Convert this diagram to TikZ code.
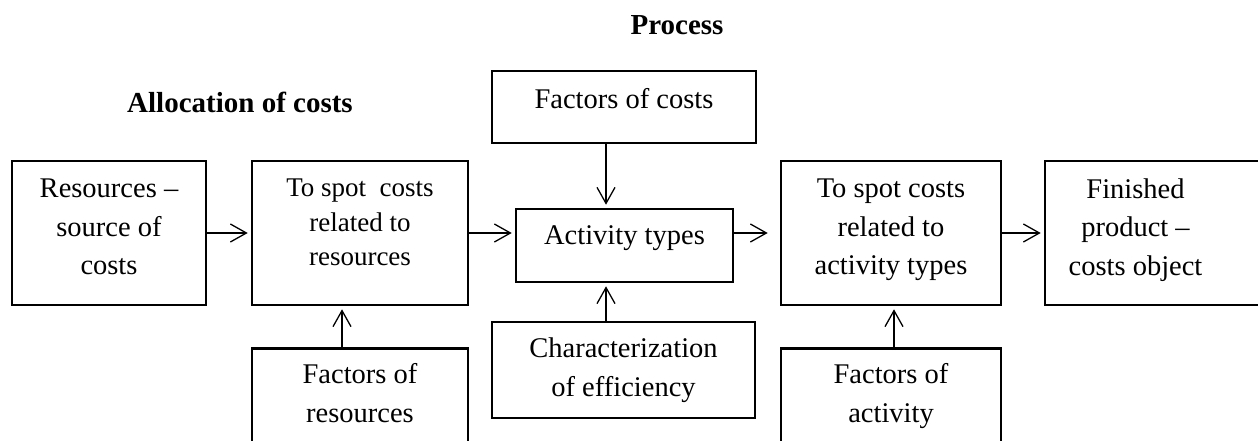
\documentclass[tikz,border=0pt]{standalone}
\usepackage{fontspec}
\setmainfont{Liberation Serif}
\usetikzlibrary{positioning}
\usetikzlibrary{arrows.meta}
\tikzset{>={Straight Barb[length=16pt,width=18pt]}}
\tikzset{box/.style={draw, line width=2.6pt, inner sep=0pt, align=center, font=\fontsize{28.5}{38.5}\selectfont}}
\tikzset{txt/.style={inner sep=0pt, align=center, font=\fontsize{28.5}{38.5}\selectfont}}
\tikzset{head/.style={inner sep=0pt, anchor=base, font=\bfseries\fontsize{29}{35}\selectfont}}
\tikzset{ed/.style={->, line width=1.3pt, shorten >=3pt}}

\begin{document}
\begin{tikzpicture}[x=1pt,y=-1pt]
\useasboundingbox (0,0) rectangle (1258,441);
\clip (0,0) rectangle (1258,441);

\node[head] (proc) at (677,35) {Process};
\node[head] (alloc) at (240,113) {Allocation of costs};

\node[box, minimum width=194pt, minimum height=144pt, text depth=12pt] (res) at (109,233) {Resources --\\source of\\costs};
\node[box, minimum width=216pt, minimum height=144pt, text depth=21pt, font=\fontsize{27}{34.5}\selectfont] (sres) at (360,233) {To spot\ \ costs\\related to\\resources};
\node[box, minimum width=264pt, minimum height=72pt, text depth=16.5pt] (fcost) at (624,107) {Factors of costs};
\node[box, minimum width=217pt, minimum height=73pt, text depth=20.5pt] (act) at (624.5,245.5) {Activity types};
\node[box, minimum width=263pt, minimum height=96pt] (char) at (623.5,370) {Characterization\\of efficiency};
\node[box, minimum width=220pt, minimum height=144pt, text depth=12pt] (sact) at (891,233) {To spot costs\\related to\\activity types};

% right box runs off the page
\node[box, minimum width=217pt, minimum height=144pt] (fin) at (1153.5,233) {};
\node[txt] (fintext) at ([xshift=-18pt,yshift=3pt]fin.center) {Finished\\product --\\costs object};

% lower boxes are cut by the bottom edge
\node[box, anchor=north, minimum width=216pt, minimum height=130pt] (fres) at (360,347) {};
\node[txt, below=16.5pt of fres.north] (frestext) {Factors of\\resources};
\node[box, anchor=north, minimum width=220pt, minimum height=130pt] (fact) at (891,347) {};
\node[txt, below=16.5pt of fact.north] (facttext) {Factors of\\activity};

\draw[ed] (res) -- (sres);
\draw[ed] (sres.east) -- (act.west |- sres.east);
\draw[ed, shorten >=12pt] (act.east |- sres.east) -- (sact.west);
\draw[ed] (sact) -- (fin);

\draw[ed] ([xshift=-18pt]fcost.south) -- ([xshift=-18.5pt]act.north);
\draw[ed] ([xshift=-17.5pt]char.north) -- ([xshift=-18.5pt]act.south);
\draw[ed] ([xshift=-18pt]fres.north) -- ([xshift=-18pt]sres.south);
\draw[ed] ([xshift=3pt]fact.north) -- ([xshift=3pt]sact.south);
\end{tikzpicture}
\end{document}
